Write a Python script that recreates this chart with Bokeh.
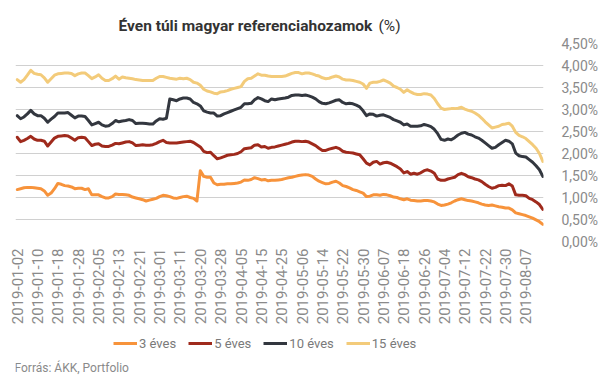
import math
from bokeh.plotting import figure
from bokeh.layouts import column
from bokeh.models import (Range1d, FixedTicker, CustomJSTickFormatter, Legend,
                          LegendItem, Label, ColumnDataSource)
from bokeh.embed import file_html
from bokeh.resources import INLINE

TITLE_MAIN = "Éven túli magyar referenciahozamok"
TITLE_UNIT = "(%)"
SOURCE_TEXT = "Forrás: ÁKK, Portfolio"

TICK_LABELS = ["2019-01-02", "2019-01-10", "2019-01-18", "2019-01-28", "2019-02-05",
               "2019-02-13", "2019-02-21", "2019-03-01", "2019-03-11", "2019-03-20",
               "2019-03-28", "2019-04-05", "2019-04-15", "2019-04-25", "2019-05-06",
               "2019-05-14", "2019-05-22", "2019-05-30", "2019-06-07", "2019-06-18",
               "2019-06-26", "2019-07-04", "2019-07-12", "2019-07-22", "2019-07-30",
               "2019-08-07"]
TICK_STEP = 6

Y3 = [1.18, 1.20, 1.22, 1.23, 1.23, 1.22, 1.21, 1.20, 1.15, 1.05,
      1.10, 1.20, 1.32, 1.30, 1.27, 1.26, 1.24, 1.20, 1.21, 1.21,
      1.18, 1.20, 1.06, 1.06, 1.06, 1.02, 0.99, 0.99, 1.02, 1.08,
      1.07, 1.07, 1.06, 1.05, 1.01, 0.99, 0.97, 0.95, 0.92, 0.94,
      0.96, 0.98, 1.02, 1.05, 1.04, 1.02, 0.99, 0.98, 1.00, 1.02,
      1.03, 1.00, 0.98, 0.92, 1.61, 1.48, 1.46, 1.46, 1.33, 1.29,
      1.30, 1.30, 1.31, 1.31, 1.32, 1.33, 1.35, 1.40, 1.39, 1.41,
      1.45, 1.43, 1.40, 1.41, 1.38, 1.39, 1.39, 1.40, 1.41, 1.43,
      1.45, 1.46, 1.48, 1.50, 1.51, 1.52, 1.51, 1.48, 1.42, 1.37,
      1.34, 1.31, 1.32, 1.35, 1.37, 1.33, 1.27, 1.25, 1.22, 1.18,
      1.16, 1.13, 1.10, 1.02, 1.03, 1.06, 1.06, 1.05, 1.07, 1.06,
      1.04, 1.01, 1.00, 0.97, 0.95, 0.97, 0.94, 0.93, 0.92, 0.92,
      0.93, 0.93, 0.92, 0.90, 0.85, 0.82, 0.83, 0.85, 0.88, 0.92,
      0.95, 0.97, 0.95, 0.93, 0.92, 0.90, 0.88, 0.85, 0.83, 0.82,
      0.83, 0.81, 0.79, 0.78, 0.76, 0.76, 0.72, 0.65, 0.63, 0.61,
      0.59, 0.56, 0.53, 0.49, 0.45, 0.39]

Y5 = [2.37, 2.27, 2.30, 2.34, 2.39, 2.33, 2.30, 2.30, 2.28, 2.17,
      2.26, 2.35, 2.39, 2.40, 2.41, 2.40, 2.35, 2.30, 2.36, 2.37,
      2.36, 2.27, 2.18, 2.21, 2.22, 2.17, 2.16, 2.16, 2.19, 2.23,
      2.22, 2.24, 2.26, 2.27, 2.24, 2.18, 2.19, 2.20, 2.19, 2.19,
      2.20, 2.23, 2.27, 2.30, 2.25, 2.24, 2.24, 2.24, 2.25, 2.26,
      2.27, 2.28, 2.25, 2.20, 2.15, 2.05, 2.02, 2.03, 1.95, 1.88,
      1.90, 1.93, 1.96, 1.97, 1.98, 2.00, 2.04, 2.11, 2.12, 2.13,
      2.19, 2.20, 2.15, 2.16, 2.12, 2.14, 2.15, 2.17, 2.19, 2.21,
      2.23, 2.26, 2.28, 2.28, 2.27, 2.28, 2.26, 2.22, 2.18, 2.12,
      2.07, 2.07, 2.10, 2.12, 2.14, 2.11, 2.05, 2.03, 2.02, 2.01,
      1.99, 1.97, 1.88, 1.78, 1.74, 1.80, 1.82, 1.76, 1.79, 1.80,
      1.78, 1.74, 1.70, 1.65, 1.56, 1.59, 1.53, 1.55, 1.53, 1.56,
      1.61, 1.63, 1.60, 1.55, 1.42, 1.39, 1.39, 1.42, 1.44, 1.46,
      1.52, 1.55, 1.52, 1.47, 1.45, 1.42, 1.40, 1.36, 1.30, 1.25,
      1.21, 1.23, 1.27, 1.28, 1.27, 1.31, 1.26, 1.06, 1.05, 1.05,
      1.04, 0.98, 0.95, 0.90, 0.84, 0.73]

Y10 = [2.86, 2.79, 2.83, 2.90, 2.98, 2.90, 2.86, 2.86, 2.80, 2.71,
       2.78, 2.84, 2.92, 2.92, 2.92, 2.93, 2.87, 2.81, 2.85, 2.85,
       2.84, 2.75, 2.65, 2.68, 2.71, 2.65, 2.62, 2.63, 2.68, 2.75,
       2.72, 2.74, 2.75, 2.77, 2.75, 2.68, 2.69, 2.69, 2.68, 2.67,
       2.67, 2.74, 2.79, 2.78, 2.80, 3.24, 3.22, 3.20, 3.24, 3.26,
       3.26, 3.24, 3.16, 3.13, 3.08, 2.97, 2.94, 2.92, 2.92, 2.85,
       2.86, 2.90, 2.93, 2.96, 2.99, 3.02, 3.05, 3.13, 3.13, 3.14,
       3.22, 3.27, 3.24, 3.20, 3.18, 3.24, 3.22, 3.24, 3.25, 3.26,
       3.28, 3.32, 3.33, 3.33, 3.32, 3.33, 3.31, 3.28, 3.24, 3.18,
       3.14, 3.13, 3.15, 3.18, 3.21, 3.22, 3.16, 3.13, 3.14, 3.13,
       3.10, 3.06, 2.97, 2.86, 2.90, 2.89, 2.85, 2.87, 2.88, 2.85,
       2.82, 2.77, 2.74, 2.71, 2.65, 2.67, 2.62, 2.62, 2.62, 2.63,
       2.66, 2.64, 2.61, 2.55, 2.45, 2.32, 2.30, 2.33, 2.31, 2.36,
       2.42, 2.46, 2.48, 2.44, 2.42, 2.38, 2.35, 2.30, 2.24, 2.18,
       2.12, 2.14, 2.20, 2.25, 2.30, 2.28, 2.22, 2.01, 1.95, 1.93,
       1.92, 1.86, 1.80, 1.72, 1.63, 1.48]

Y15 = [3.68, 3.62, 3.68, 3.78, 3.89, 3.82, 3.80, 3.79, 3.72, 3.62,
       3.70, 3.78, 3.81, 3.82, 3.83, 3.83, 3.82, 3.77, 3.81, 3.83,
       3.83, 3.77, 3.70, 3.74, 3.79, 3.71, 3.66, 3.66, 3.70, 3.76,
       3.69, 3.74, 3.72, 3.71, 3.70, 3.68, 3.67, 3.66, 3.66, 3.66,
       3.66, 3.71, 3.75, 3.75, 3.73, 3.71, 3.70, 3.69, 3.71, 3.70,
       3.71, 3.68, 3.62, 3.60, 3.55, 3.46, 3.42, 3.40, 3.37, 3.36,
       3.40, 3.41, 3.43, 3.46, 3.48, 3.50, 3.52, 3.64, 3.70, 3.71,
       3.76, 3.81, 3.78, 3.78, 3.76, 3.75, 3.75, 3.75, 3.75, 3.76,
       3.79, 3.82, 3.84, 3.84, 3.81, 3.83, 3.83, 3.81, 3.78, 3.76,
       3.72, 3.70, 3.71, 3.74, 3.76, 3.74, 3.69, 3.67, 3.67, 3.66,
       3.64, 3.62, 3.58, 3.48, 3.60, 3.62, 3.62, 3.64, 3.67, 3.64,
       3.60, 3.53, 3.50, 3.46, 3.39, 3.45, 3.40, 3.36, 3.34, 3.34,
       3.36, 3.35, 3.33, 3.25, 3.13, 3.03, 3.00, 3.01, 3.02, 3.02,
       3.03, 3.05, 3.01, 2.98, 2.96, 2.92, 2.87, 2.80, 2.72, 2.65,
       2.58, 2.60, 2.62, 2.66, 2.67, 2.69, 2.62, 2.48, 2.41, 2.38,
       2.34, 2.27, 2.20, 2.12, 2.00, 1.82]

SERIES_NAMES = ["3 éves", "5 éves", "10 éves", "15 éves"]
SERIES_VALUES = [Y3, Y5, Y10, Y15]
COLORS = ["#f7933b", "#9f2a1c", "#33373f", "#f3cb7a"]

FONT = "Roboto"
GREY = "#8a8a8a"
TITLE_COLOR = "#333333"

n = len(Y3)
xs = list(range(n))
sources = [ColumnDataSource(dict(x=xs, y=vals)) for vals in SERIES_VALUES]


def bare_figure(height):
    f = figure(width=607, height=height, output_backend="svg", toolbar_location=None,
               x_range=Range1d(-3, -2), y_range=Range1d(-3, -2),
               x_axis_type=None, y_axis_type=None,
               min_border_left=0, min_border_right=0, min_border_top=0,
               min_border_bottom=0)
    f.outline_line_color = None
    f.xgrid.grid_line_color = None
    f.ygrid.grid_line_color = None
    f.background_fill_color = "white"
    f.border_fill_color = "white"
    return f


# ---- header (title) ----
ph = bare_figure(35)
ph.add_layout(Label(x=103, y=10, x_units="screen", y_units="screen",
                    text=TITLE_MAIN, text_baseline="middle",
                    text_font=FONT, text_font_style="bold",
                    text_font_size="15.5px", text_color=TITLE_COLOR))
ph.add_layout(Label(x=363, y=10, x_units="screen", y_units="screen",
                    text=TITLE_UNIT, text_baseline="middle",
                    text_font=FONT, text_font_style="normal",
                    text_font_size="15.5px", text_color=TITLE_COLOR))

# ---- main chart ----
p = figure(width=607, height=292, output_backend="svg", toolbar_location=None,
           x_range=Range1d(-0.5, n - 0.8), y_range=Range1d(0, 4.5),
           y_axis_location="right",
           min_border_left=15, min_border_right=64, min_border_top=8,
           min_border_bottom=86)
p.outline_line_color = None
p.background_fill_color = "white"
p.border_fill_color = "white"

p.xgrid.grid_line_color = None
p.ygrid.grid_line_color = "#d0d0d0"
p.ygrid.grid_line_width = 1

ya = p.yaxis[0]
ya.ticker = FixedTicker(ticks=[i * 0.5 for i in range(10)])
ya.formatter = CustomJSTickFormatter(code="return tick.toFixed(2).replace('.', ',') + '%';")
ya.axis_line_color = None
ya.major_tick_line_color = None
ya.minor_tick_line_color = None
ya.major_label_standoff = 12
ya.major_label_text_font = FONT
ya.major_label_text_font_size = "14px"
ya.major_label_text_color = GREY

xa = p.xaxis[0]
tick_pos = [i * TICK_STEP for i in range(len(TICK_LABELS))]
xa.ticker = FixedTicker(ticks=tick_pos)
xa.major_label_overrides = {t: lab for t, lab in zip(tick_pos, TICK_LABELS)}
xa.major_label_orientation = math.pi / 2
xa.axis_line_color = None
xa.major_tick_line_color = None
xa.minor_tick_line_color = None
xa.major_tick_out = 0
xa.major_tick_in = 0
xa.major_label_standoff = 7
xa.major_label_text_font = FONT
xa.major_label_text_font_size = "15px"
xa.major_label_text_color = GREY

for src, col in zip(sources, COLORS):
    p.line("x", "y", source=src, line_color=col, line_width=3,
           line_join="round", line_cap="round")

# ---- legend + source strip ----
p2 = bare_figure(53)
items = []
for name, src, col in zip(SERIES_NAMES, sources, COLORS):
    # same data, outside this strip's visible range: only the legend glyph shows
    r = p2.line("x", "y", source=src, line_color=col, line_width=3)
    items.append(LegendItem(label=name, renderers=[r]))

legend = Legend(items=items, orientation="horizontal", location=(98, 27),
                glyph_width=24, glyph_height=20, label_height=20,
                label_standoff=2, spacing=12,
                padding=0, margin=0, border_line_color=None,
                background_fill_alpha=0,
                label_text_font=FONT, label_text_font_size="13px",
                label_text_color="#7a7a7a")
p2.add_layout(legend, "center")

p2.add_layout(Label(x=-1, y=13, x_units="screen", y_units="screen",
                    text=SOURCE_TEXT, text_baseline="middle",
                    text_font=FONT, text_font_size="12px", text_color=GREY))

layout = column(ph, p, p2, spacing=0)
open("out.html", "w").write(file_html(layout, INLINE))
